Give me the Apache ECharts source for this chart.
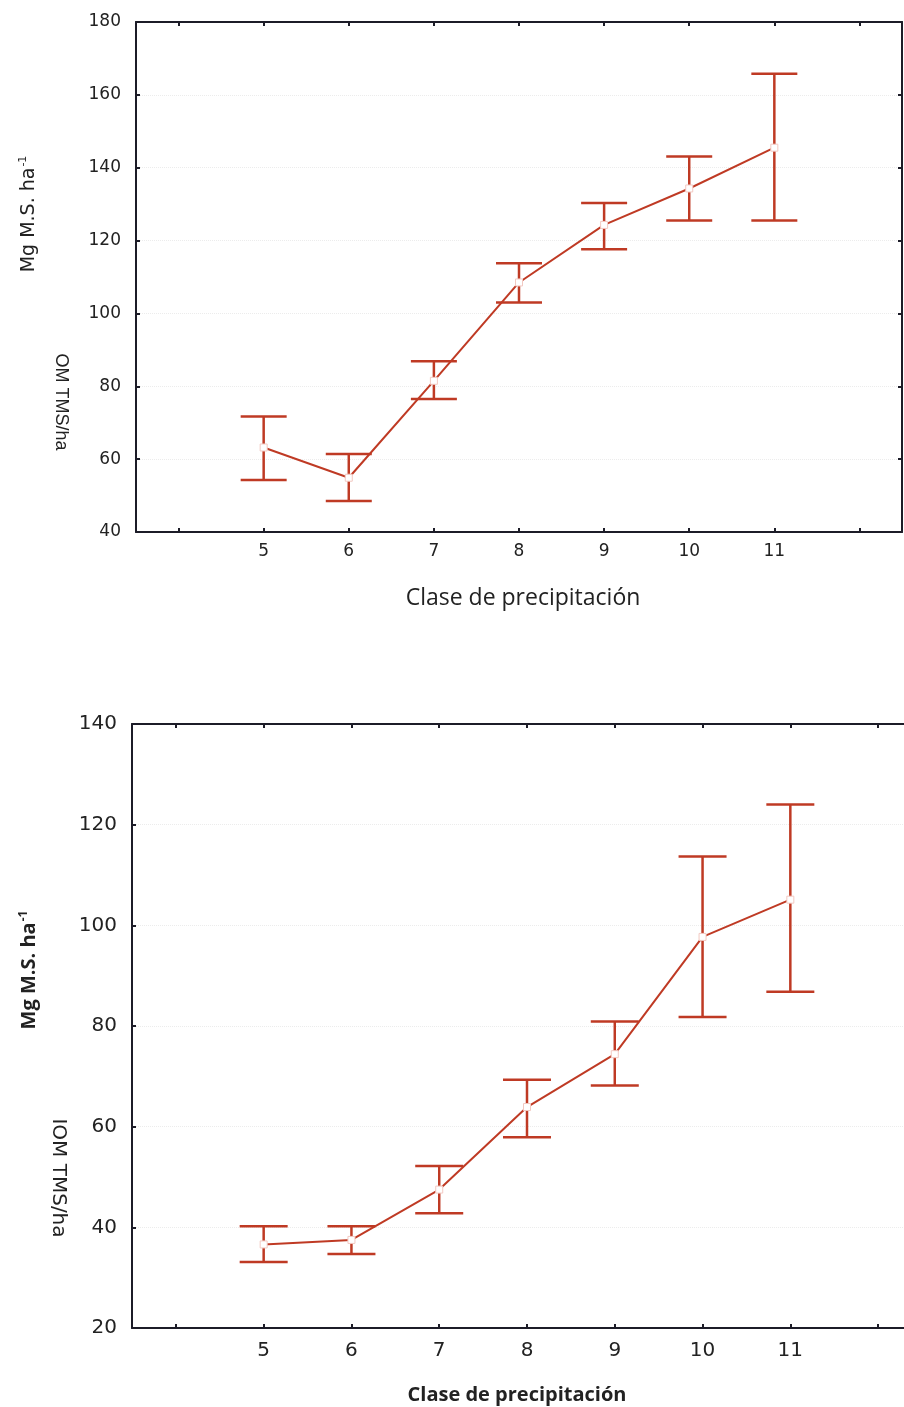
<!DOCTYPE html>
<html>
<head>
<meta charset="utf-8">
<script src="https://cdn.jsdelivr.net/npm/echarts@6/dist/echarts.min.js"></script>
<style>
  html, body { margin: 0; padding: 0; background: #fff; overflow: hidden; }
  #chart { width: 904px; height: 1407px; }
</style>
</head>
<body>
<div id="chart"></div>
<script>
// clases de precipitación
const categories = [5, 6, 7, 8, 9, 10, 11]
const tickClasses = [4, 5, 6, 7, 8, 9, 10, 11, 12]

// OM (gráfico superior)
const omMean = [63.2, 54.9, 81.5, 108.5, 124.3, 134.3, 145.5]
const omLow = [54.3, 48.5, 76.5, 103.0, 117.6, 125.5, 125.5]
const omHigh = [71.7, 61.4, 86.9, 113.8, 130.3, 143.1, 165.8]

// IOM (gráfico inferior)
const iomMean = [36.6, 37.5, 47.5, 63.9, 74.4, 97.7, 105.1]
const iomLow = [33.1, 34.7, 42.8, 57.9, 68.2, 81.8, 86.8]
const iomHigh = [40.2, 40.2, 52.2, 69.3, 80.9, 113.7, 124.0]

const RED = '#bf3a24'
const AXIS = '#1c1c28'

const chart = echarts.init(document.getElementById('chart'))

function xAxes(gridIndex, fontSize, margin) {
  const base = {
    type: 'value',
    gridIndex: gridIndex,
    min: 3.5,
    max: 12.5,
    splitLine: { show: false },
    axisLine: { show: true, onZero: false, lineStyle: { color: AXIS, width: 2 } },
    axisTick: { show: true, inside: true, length: 4, customValues: tickClasses, lineStyle: { color: AXIS, width: 2 } }
  }
  return [
    Object.assign({}, base, {
      position: 'bottom',
      axisLabel: { customValues: categories, color: '#222', fontSize: fontSize, fontFamily: 'DejaVu Sans', margin: margin }
    }),
    Object.assign({}, base, { position: 'top', axisLabel: { show: false } })
  ]
}

function yAxes(gridIndex, min, max, fontSize, margin) {
  const base = {
    type: 'value',
    gridIndex: gridIndex,
    min: min,
    max: max,
    interval: 20,
    axisLine: { show: true, onZero: false, lineStyle: { color: AXIS, width: 2 } },
    axisTick: { show: true, inside: true, length: 4, lineStyle: { color: AXIS, width: 2 } }
  }
  return [
    Object.assign({}, base, {
      position: 'left',
      splitLine: { show: true, lineStyle: { color: '#ececec', type: 'dotted' } },
      axisLabel: { color: '#222', fontSize: fontSize, fontFamily: 'DejaVu Sans', margin: margin }
    }),
    Object.assign({}, base, { position: 'right', splitLine: { show: false }, axisLabel: { show: false } })
  ]
}

function errorBars(xIdx, yIdx, low, high, capHalf) {
  return {
    type: 'custom',
    xAxisIndex: xIdx,
    yAxisIndex: yIdx,
    data: categories.map((c, i) => [c, low[i], high[i]]),
    renderItem: function (params, api) {
      const lo = api.coord([api.value(0), api.value(1)])
      const hi = api.coord([api.value(0), api.value(2)])
      const style = { stroke: RED, lineWidth: 2.5 }
      return {
        type: 'group',
        children: [
          { type: 'line', shape: { x1: hi[0], y1: hi[1], x2: lo[0], y2: lo[1] }, style: style },
          { type: 'line', shape: { x1: hi[0] - capHalf, y1: hi[1], x2: hi[0] + capHalf, y2: hi[1] }, style: style },
          { type: 'line', shape: { x1: lo[0] - capHalf, y1: lo[1], x2: lo[0] + capHalf, y2: lo[1] }, style: style }
        ]
      }
    },
    z: 2
  }
}

function meanLine(xIdx, yIdx, mean) {
  return {
    type: 'line',
    xAxisIndex: xIdx,
    yAxisIndex: yIdx,
    data: categories.map((c, i) => [c, mean[i]]),
    symbol: 'rect',
    symbolSize: 7,
    lineStyle: { color: RED, width: 2 },
    itemStyle: { color: '#fff', borderColor: '#f2c9c2', borderWidth: 1 },
    z: 3
  }
}

chart.setOption({
  backgroundColor: '#fff',
  animation: false,
  grid: [
    { left: 136, top: 22, width: 766, height: 510, outerBoundsMode: 'none' },
    // el borde derecho queda fuera de la imagen
    { left: 132, top: 724, width: 790, height: 604, outerBoundsMode: 'none' }
  ],
  xAxis: xAxes(0, 17, 11).concat(xAxes(1, 20, 13)),
  yAxis: yAxes(0, 40, 180, 17, 15).concat(yAxes(1, 20, 140, 20, 15)),
  series: [
    errorBars(0, 0, omLow, omHigh, 23),
    meanLine(0, 0, omMean),
    errorBars(2, 2, iomLow, iomHigh, 24),
    meanLine(2, 2, iomMean)
  ],
  graphic: [
    {
      type: 'text', x: 29, y: 214, rotation: Math.PI / 2,
      style: {
        text: '{a|Mg M.S. ha}{s|-1}',
        align: 'center', verticalAlign: 'middle', textAlign: 'center', textVerticalAlign: 'middle',
        rich: {
          a: { fontSize: 19, fontFamily: 'DejaVu Sans', fill: '#222', color: '#222' },
          s: { fontSize: 11, fontFamily: 'DejaVu Sans', fill: '#222', color: '#222', padding: [0, 0, 11, 1] }
        }
      }
    },
    {
      type: 'text', x: 61, y: 402, rotation: -Math.PI / 2,
      style: {
        text: 'OM TMS/ha', fill: '#222', font: '18px "Liberation Sans Narrow", "Liberation Sans"',
        align: 'center', verticalAlign: 'middle', textAlign: 'center', textVerticalAlign: 'middle'
      }
    },
    {
      type: 'text', x: 523, y: 598,
      style: {
        text: 'Clase de precipitación', fill: '#222', font: '23px "Open Sans"',
        align: 'center', verticalAlign: 'middle', textAlign: 'center', textVerticalAlign: 'middle'
      }
    },
    {
      type: 'text', x: 29, y: 970, rotation: Math.PI / 2,
      style: {
        text: '{a|Mg M.S. ha}{s|-1}',
        align: 'center', verticalAlign: 'middle', textAlign: 'center', textVerticalAlign: 'middle',
        rich: {
          a: { fontSize: 20, fontWeight: 'bold', fontFamily: 'Open Sans', fill: '#222', color: '#222' },
          s: { fontSize: 12, fontWeight: 'bold', fontFamily: 'Open Sans', fill: '#222', color: '#222', padding: [0, 0, 11, 1] }
        }
      }
    },
    {
      type: 'text', x: 58, y: 1178, rotation: -Math.PI / 2,
      style: {
        text: 'IOM TMS/ha', fill: '#222', font: '20px "DejaVu Sans"',
        align: 'center', verticalAlign: 'middle', textAlign: 'center', textVerticalAlign: 'middle'
      }
    },
    {
      type: 'text', x: 517, y: 1395,
      style: {
        text: 'Clase de precipitación', fill: '#222', font: 'bold 20px "Open Sans"',
        align: 'center', verticalAlign: 'middle', textAlign: 'center', textVerticalAlign: 'middle'
      }
    }
  ]
})
</script>
</body>
</html>
